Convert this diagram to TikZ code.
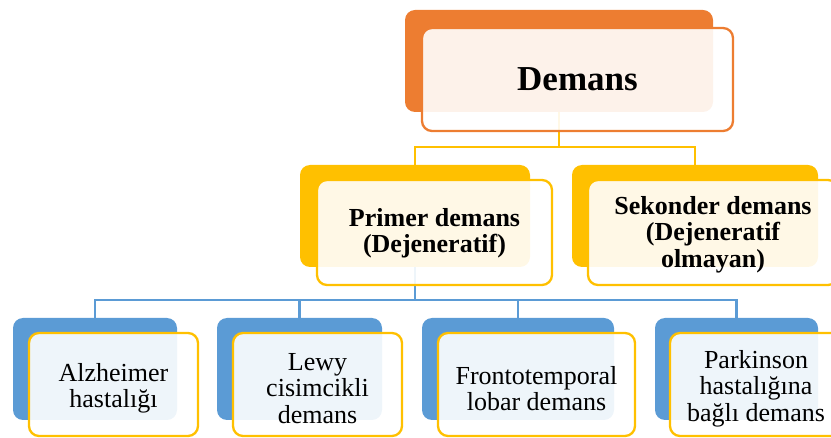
\documentclass[tikz,border=0pt]{standalone}
\usepackage{fontspec}
\setmainfont{Liberation Serif}
\definecolor{dorange}{HTML}{ED7D31}
\definecolor{dgold}{HTML}{FFC000}
\definecolor{dblue}{HTML}{5B9BD5}
\tikzset{
  backbox/.style={rectangle, rounded corners=10pt, inner sep=0pt, fill=#1, draw=none},
  frontbox/.style={rectangle, rounded corners=10pt, inner sep=0pt, draw=#1, line width=2.3pt,
    fill=white, fill opacity=0.9, minimum height=103pt},
  label/.style={inner sep=0pt, align=center},
  topfont/.style={label, font=\fontsize{35}{40}\selectfont\bfseries},
  midfont/.style={label, font=\fontsize{26}{26.5}\selectfont\bfseries},
  lowfont/.style={label, font=\fontsize{26}{26.5}\selectfont},
  conn/.style={draw=#1, line width=2.2pt},
}
\begin{document}
\begin{tikzpicture}[x=1pt,y=-1pt]
\useasboundingbox (0,0) rectangle (831,438);
\clip (0,0) rectangle (831,438);

% back panels
\node[backbox=dorange, minimum width=308pt, minimum height=102pt] (b0) at (559,61) {};
\node[backbox=dgold, minimum width=230pt, minimum height=102pt] (bp) at (415,216) {};
\node[backbox=dgold, minimum width=246pt, minimum height=102pt] (bs) at (695,216) {};
\node[backbox=dblue, minimum width=164pt, minimum height=102pt] (b1) at (95,369) {};
\node[backbox=dblue, minimum width=165pt, minimum height=102pt] (b2) at (299.5,369) {};
\node[backbox=dblue, minimum width=192pt, minimum height=102pt] (b3) at (518,369) {};
\node[backbox=dblue, minimum width=163pt, minimum height=102pt] (b4) at (736.5,369) {};

% connectors
\coordinate (j0) at (559,147);
\coordinate (j1) at (415,300);
\draw[conn=dgold] (b0.south) -- (j0) -| (bp.north);
\draw[conn=dgold] (j0) -| (bs.north);
\draw[conn=dblue] (bp.south) -- (j1) -| (b1.north);
\draw[conn=dblue] (j1) -| (b2.north);
\draw[conn=dblue] (j1) -| (b3.north);
\draw[conn=dblue] (j1) -| (b4.north);

% front panels
\node[frontbox=dorange, minimum width=311pt] (f0) at (577.5,79.5) {};
\node[frontbox=dgold, minimum width=235pt, minimum height=105pt] (fp) at (434.5,232.5) {};
\node[frontbox=dgold, minimum width=250pt, minimum height=105pt] (fs) at (713,232.5) {};
\node[frontbox=dgold, minimum width=169pt] (f1) at (113.5,384.5) {};
\node[frontbox=dgold, minimum width=169pt] (f2) at (317.5,384.5) {};
\node[frontbox=dgold, minimum width=197pt] (f3) at (536.5,384.5) {};
\node[frontbox=dgold, minimum width=172pt] (f4) at (756,384.5) {};

% labels
\node[topfont] (t0) at (f0.center) {Demans};
\node[midfont] (tp) at ([yshift=-1pt]fp.center) {Primer demans\\(Dejeneratif)};
\node[midfont] (ts) at ([yshift=-2pt]fs.center) {Sekonder demans\\(Dejeneratif\\olmayan)};
\node[lowfont] (t1) at ([yshift=-4pt]f1.center) {Alzheimer\\hastalığı};
\node[lowfont] (t2) at ([yshift=-4pt]f2.center) {Lewy\\cisimcikli\\demans};
\node[lowfont] (t3) at ([yshift=-4pt]f3.center) {Frontotemporal\\lobar demans};
\node[lowfont] (t4) at ([yshift=-4pt]f4.center) {Parkinson\\hastalığına\\bağlı demans};
\end{tikzpicture}
\end{document}
